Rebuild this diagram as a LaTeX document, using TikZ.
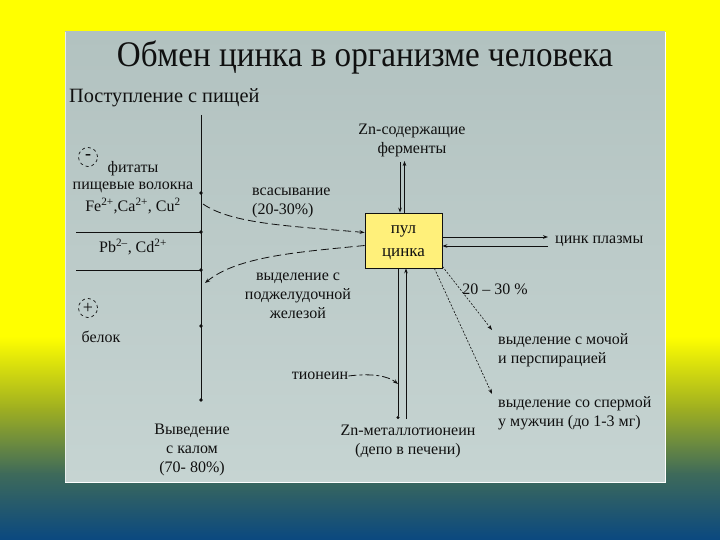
\documentclass[tikz,border=0pt]{standalone}
\usepackage{fontspec}
\setmainfont{Liberation Serif}
\usetikzlibrary{arrows.meta,calc}
\definecolor{bgyellow}{HTML}{FFFF00}
\definecolor{bgolive}{HTML}{A0B020}
\definecolor{bggreen}{HTML}{3E6A5A}
\definecolor{bgblue}{HTML}{0A4880}
\definecolor{paneltop}{HTML}{B2C2C0}
\definecolor{panelmid}{HTML}{D4E2E2}
\definecolor{panelbot}{HTML}{C6D4D2}
\definecolor{poolfill}{HTML}{FFF07A}
\definecolor{ink}{HTML}{101010}
\begin{document}
\begin{tikzpicture}[x=1pt,y=-1pt,
  txt/.style={inner sep=0pt, text=ink, font=\fontsize{16}{19}\selectfont, align=center},
  line/.style={draw=ink, line width=0.8pt},
  arr/.style={line, -{Stealth[length=5pt,width=3.6pt]}},
  darr/.style={arr, dash pattern=on 8pt off 4pt},
  farr/.style={arr, line width=0.6pt, dash pattern=on 2pt off 1.6pt},
  dotn/.style={circle, fill=ink, inner sep=0pt, minimum size=3.6pt},
  signc/.style={circle, draw=ink, dashed, line width=0.7pt, minimum size=19pt, inner sep=0pt, text=ink, font=\fontsize{18}{18}\selectfont}
]
\useasboundingbox (0,0) rectangle (720,540);
% outer background
\fill[bgyellow] (0,0) rectangle (720,337);
\shade[top color=bgyellow, bottom color=bgolive] (0,336.5) rectangle (720,408);
\shade[top color=bgolive, bottom color=bggreen] (0,407.5) rectangle (720,474);
\shade[top color=bggreen, bottom color=bgblue] (0,473.5) rectangle (720,540);
% panel
\shade[top color=paneltop, middle color=panelmid, bottom color=panelbot] (65,32) rectangle (665,482);
\draw[white, line width=0.8pt] (65,482) -- (665,482) -- (665,32);
\draw[white!70!paneltop, line width=0.8pt] (65,482) -- (65,32);

% title
\node[txt] (title) at (365,57) {\scalebox{0.92}[1]{\fontsize{36}{40}\selectfont Обмен цинка в организме человека}};
\node[txt, font=\fontsize{20.3}{22}\selectfont, anchor=west] (intake) at (69,98) {Поступление с пищей};

% main vertical line with dots
\coordinate (vtop) at (201,115);
\node[dotn] (d1) at (201,193) {};
\node[dotn] (d2) at (201,232) {};
\node[dotn] (d3) at (201,270) {};
\node[dotn] (d4) at (201,326) {};
\node[dotn] (d5) at (201,400) {};
\draw[line] (vtop) -- (d5.center);
\coordinate (h1) at (76,232);
\coordinate (h2) at (76,270);
\draw[line] (h1) -- (d2.center);
\draw[line] (h2) -- (d3.center);

% left texts
\node[signc] (minus) at (88,157) {\textbf{-}};
\node[txt] (fit) at (133,169) {фитаты};
\node[txt] (fib) at (133,187) {пищевые волокна};
\node[txt] (ions) at (133,206) {Fe\textsuperscript{2+},Ca\textsuperscript{2+}, Cu\textsuperscript{2}};
\node[txt] (pbcd) at (133,247) {Pb\textsuperscript{2–}, Cd\textsuperscript{2+}};
\node[signc] (plus) at (88,308) {+};
\node[txt] (prot) at (101,337) {белок};
\node[txt] (feces) at (192,450) {Выведение\\с калом\\(70- 80\%)};

% pool
\node[draw=ink, line width=0.8pt, fill=poolfill, minimum width=77pt, minimum height=55pt, inner sep=0pt] (pool) at (403.5,240.5) {};
\node[txt, font=\fontsize{17}{23}\selectfont] (pooltxt) at (403.5,243) {пул\\цинка};

% absorption
\node[txt, anchor=north west, align=left] (abs) at (252,188) {всасывание\\(20-30\%)};
\coordinate (ab0) at (203,204);
\draw[darr] (ab0) .. controls (232,224) and (290,226) .. ($(pool.west)+(0,-8)$);

% pancreatic secretion
\node[txt] (panc) at (298,296) {выделение с\\поджелудочной\\железой};
\coordinate (pe) at (205,283);
\draw[darr] ($(pool.west)+(0,5)$) .. controls (300,252) and (238,256) .. (pe);

% enzymes
\node[txt] (ferm) at (412,140) {Zn-содержащие\\ферменты};
\coordinate (fa1) at (400,162);
\coordinate (fa2) at (404.5,161);
\draw[arr] (fa1) -- (fa1 |- pool.north);
\draw[arr] (fa2 |- pool.north) -- (fa2);

% plasma
\node[txt, anchor=west] (plasma) at (555,241) {цинк плазмы};
\coordinate (pl1) at (548,237);
\coordinate (pl2) at (548,246);
\draw[arr] (pl1 -| pool.east) -- (pl1);
\draw[arr] (pl2) -- (pl2 -| pool.east);

% metallothionein
\node[txt] (mt) at (408,441.5) {Zn-металлотионеин\\(депо в печени)};
\coordinate (mt1) at (398,419);
\coordinate (mt2) at (406,419);
\draw[line, -{Circle[length=3pt]}] (mt1 |- pool.south) -- (mt1);
\draw[arr] (mt2) -- (mt2 |- pool.south);
\node[txt] (thio) at (320,376) {тионеин};
\coordinate (th1) at (398,384);
\draw[arr, dash pattern=on 8pt off 3pt on 3pt off 3pt] (thio.east) .. controls (372,373) and (388,376) .. (th1);

% excretion with urine and sperm
\node[txt] (pct) at (495,289) {20 – 30 \%};
\node[txt, anchor=north west, align=left] (urine) at (498,333.5) {выделение с мочой\\и перспирацией};
\node[txt, anchor=north west, align=left] (sperm) at (498,396.5) {выделение со спермой\\у мужчин (до 1-3 мг)};
\coordinate (ue) at (492,330);
\coordinate (se) at (492,394);
\draw[farr] ($(pool.south east)+(0,-2)$) -- (ue);
\draw[farr] ($(pool.south east)+(-8,0)$) -- (se);
\end{tikzpicture}
\end{document}
